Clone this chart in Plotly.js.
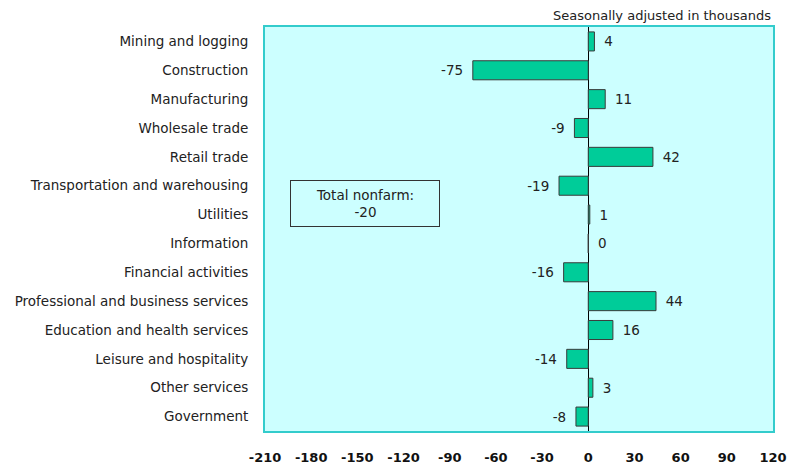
<!DOCTYPE html>
<html>
<head>
<meta charset="utf-8">
<script src="https://cdn.plot.ly/plotly-3.0.1.min.js"></script>
<style>
  html, body { margin: 0; padding: 0; background: #fff; }
  #chart { width: 792px; height: 468px; }
</style>
</head>
<body>
<div id="chart"></div>
<script>
const industries = [
  "Mining and logging",
  "Construction",
  "Manufacturing",
  "Wholesale trade",
  "Retail trade",
  "Transportation and warehousing",
  "Utilities",
  "Information",
  "Financial activities",
  "Professional and business services",
  "Education and health services",
  "Leisure and hospitality",
  "Other services",
  "Government"
];
const changes = [4, -75, 11, -9, 42, -19, 1, 0, -16, 44, 16, -14, 3, -8];
const totalNonfarm = -20;
const xTicks = [-210, -180, -150, -120, -90, -60, -30, 0, 30, 60, 90, 120];

// pad the value labels a little away from the bar ends
const labels = changes.map(v => v >= 0 ? "\u2002" + v : v + "\u2002");

const font = "DejaVu Sans, Verdana, sans-serif";

const trace = {
  type: "bar",
  orientation: "h",
  x: changes,
  y: industries,
  text: labels,
  textposition: "outside",
  cliponaxis: false,
  textfont: { family: font, size: 13.5, color: "#222" },
  marker: { color: "#00CC99", line: { color: "#3a3a3a", width: 1 } },
  hoverinfo: "skip"
};

const layout = {
  width: 792,
  height: 468,
  margin: { l: 265, r: 19, t: 27, b: 37 },
  paper_bgcolor: "#ffffff",
  plot_bgcolor: "#CCFFFF",
  bargap: 0.34,
  showlegend: false,
  font: { family: font, color: "#222" },
  xaxis: {
    range: [-210, 120],
    tickvals: xTicks,
    ticktext: xTicks.map(String),
    tickfont: { family: font, size: 13, color: "#111", weight: "bold" },
    showgrid: false,
    zeroline: true,
    zerolinecolor: "#000",
    zerolinewidth: 1,
    showline: true,
    mirror: true,
    linecolor: "#33CCCC",
    linewidth: 2,
    ticks: "",
    ticklabelstandoff: 13,
    fixedrange: true
  },
  yaxis: {
    autorange: "reversed",
    tickfont: { family: font, size: 13.5, color: "#222" },
    showgrid: false,
    showline: true,
    mirror: true,
    linecolor: "#33CCCC",
    linewidth: 2,
    ticks: "",
    ticklabelstandoff: 12,
    fixedrange: true
  },
  annotations: [
    {
      xref: "paper", yref: "paper",
      x: 1, y: 1, xanchor: "right", yanchor: "bottom", yshift: 2,
      text: "Seasonally adjusted in thousands",
      showarrow: false,
      font: { family: font, size: 13, color: "#222" }
    },
    {
      xref: "x", yref: "paper",
      x: -145, y: 0.564, xanchor: "center", yanchor: "middle",
      text: "Total nonfarm:<br>" + totalNonfarm,
      showarrow: false,
      align: "center",
      width: 146,
      height: 43,
      bordercolor: "#333",
      borderwidth: 1,
      bgcolor: "#CCFFFF",
      font: { family: font, size: 13.5, color: "#222" }
    }
  ]
};

Plotly.newPlot("chart", [trace], layout, { displayModeBar: false, staticPlot: true });
</script>
</body>
</html>
